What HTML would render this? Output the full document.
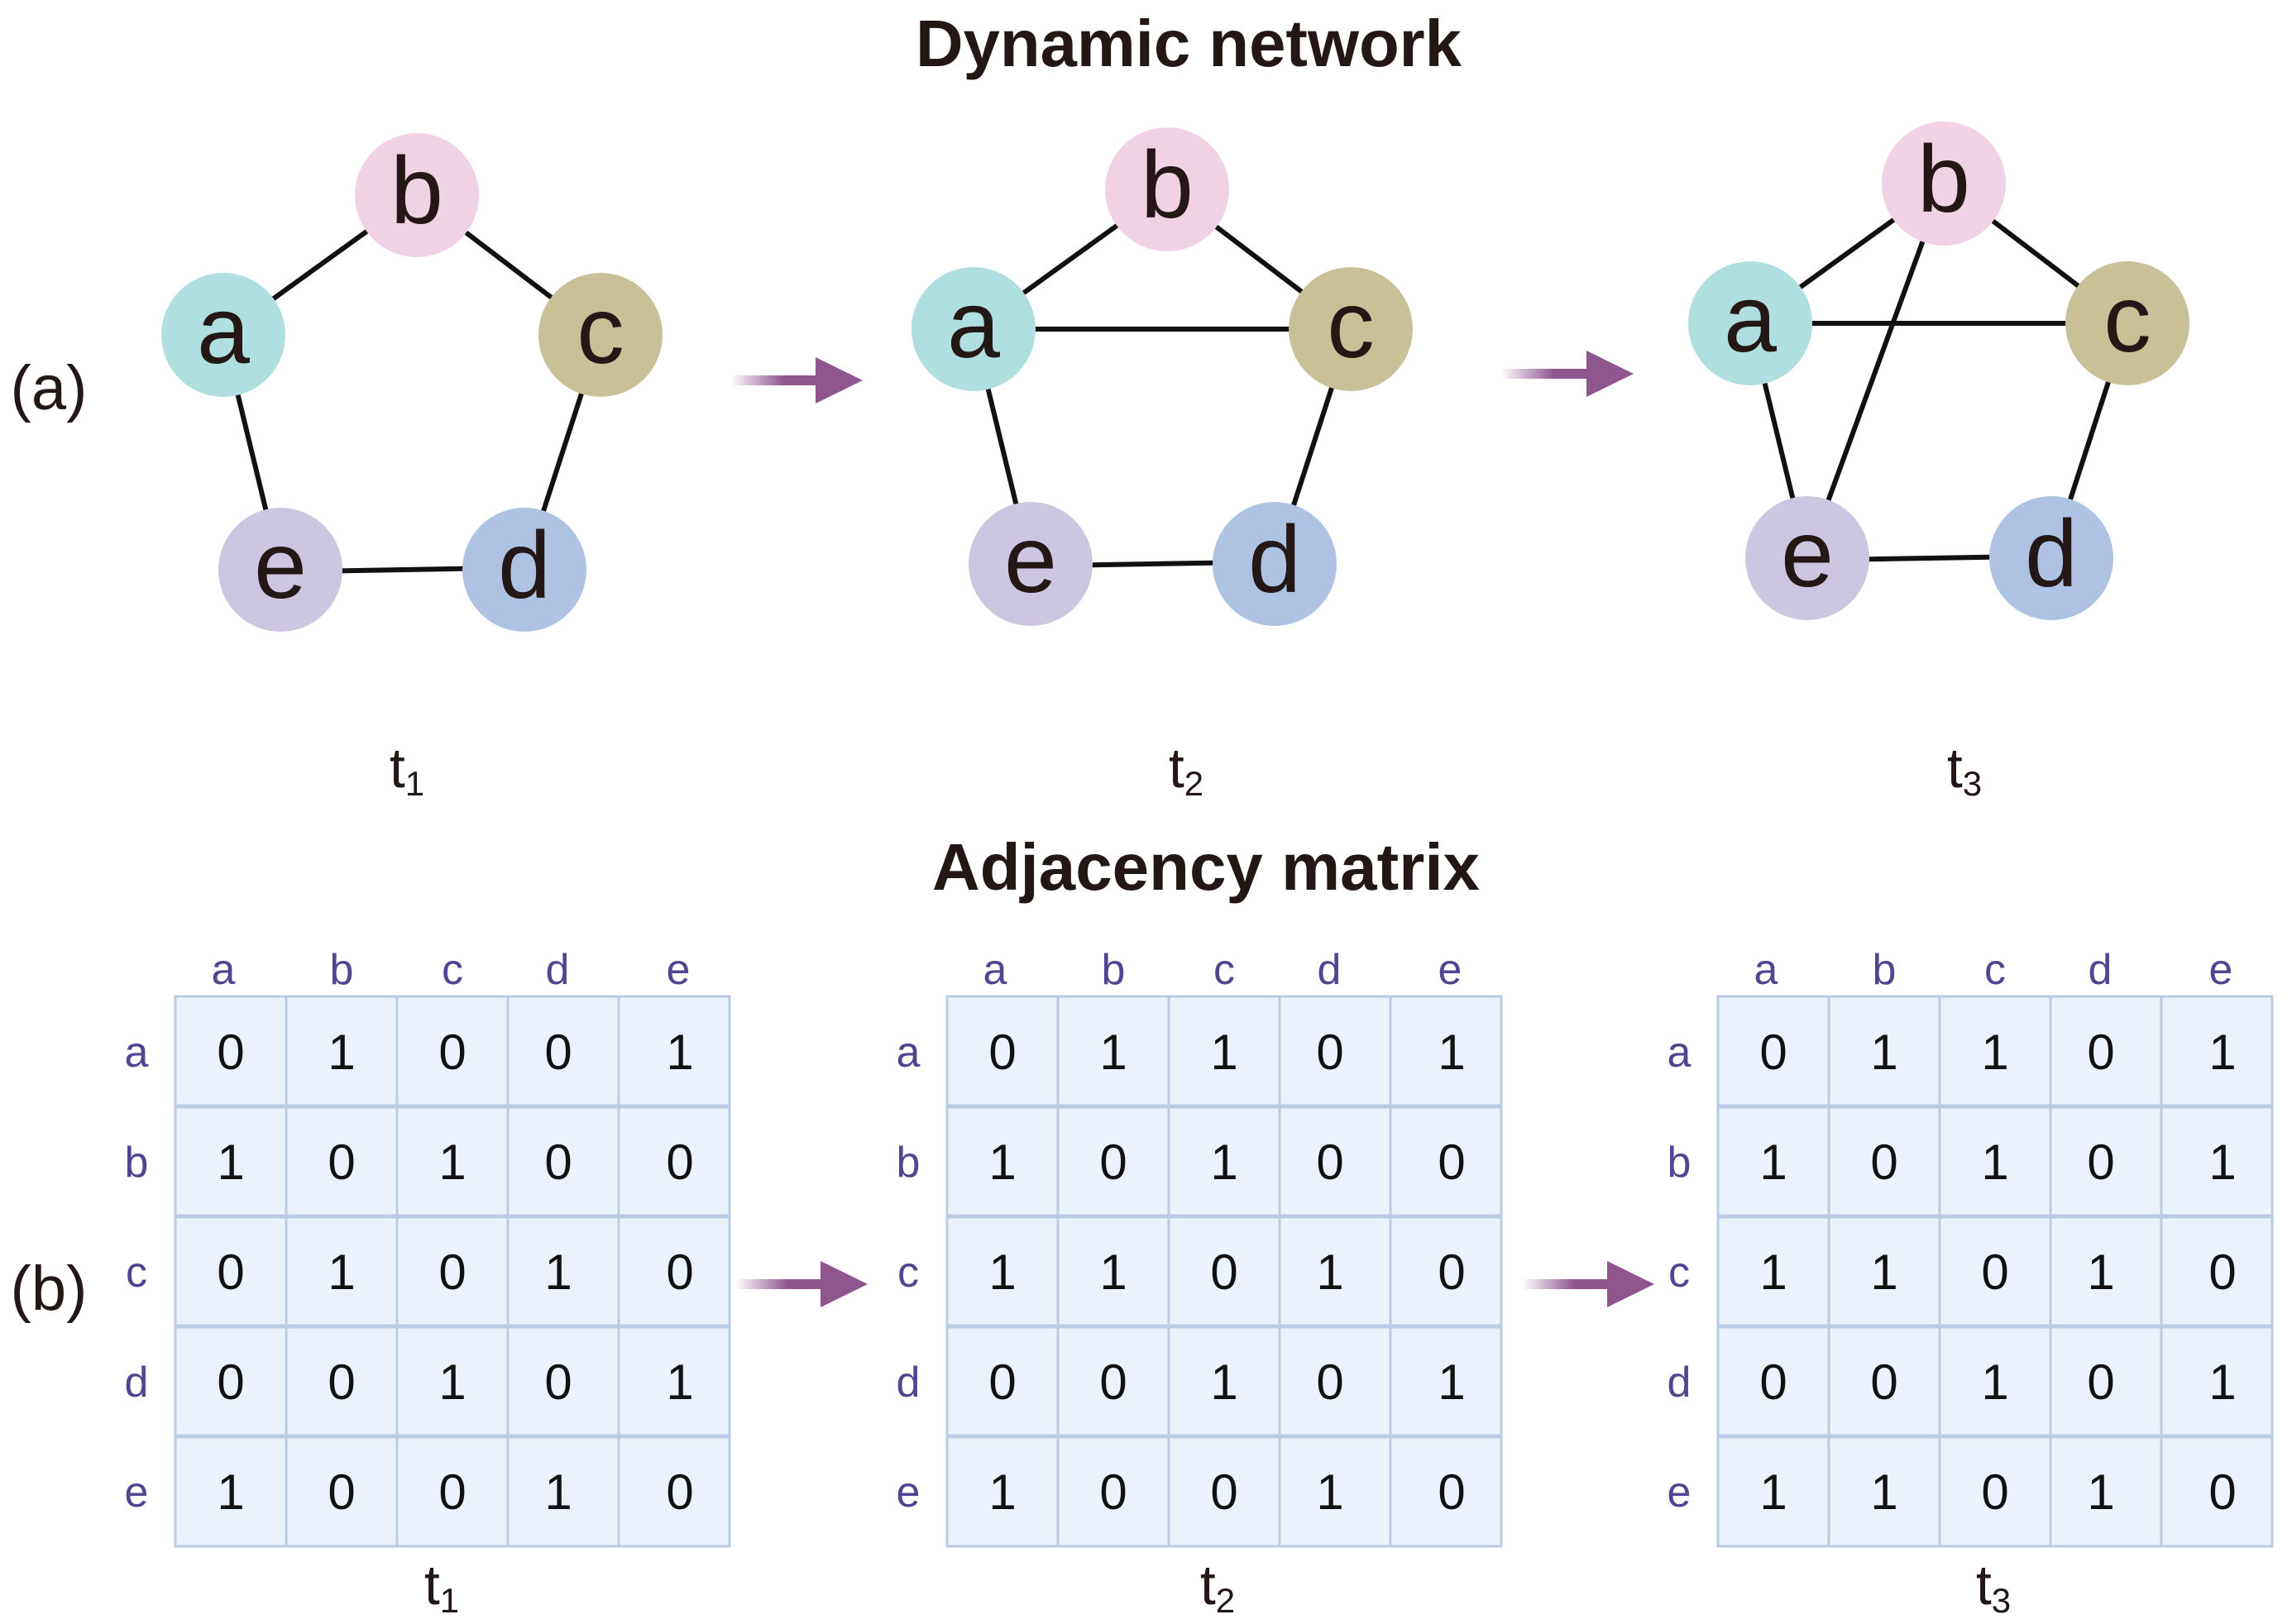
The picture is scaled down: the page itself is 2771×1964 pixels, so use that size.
<!DOCTYPE html>
<html><head><meta charset="utf-8"><style>
html,body{margin:0;padding:0;background:#fff;}
svg{display:block;}
text{font-family:"Liberation Sans",Arial,sans-serif;}
</style></head><body>
<svg width="2771" height="1964" viewBox="0 0 2771 1964" xmlns="http://www.w3.org/2000/svg">
<defs>
<linearGradient id="sg" x1="0" x2="1" y1="0" y2="0">
<stop offset="0" stop-color="#8e558f" stop-opacity="0"/>
<stop offset="0.6" stop-color="#8e558f" stop-opacity="1"/>
<stop offset="1" stop-color="#8e558f"/>
</linearGradient>
<g id="arrow">
<rect x="0" y="-6" width="106" height="12" fill="url(#sg)"/>
<polygon points="103,-28 160,0 103,28" fill="#8e558f"/>
</g>
</defs>
<rect width="2771" height="1964" fill="#fff"/>

<text x="1437" y="80" font-size="80" font-weight="bold" text-anchor="middle" fill="#231815" textLength="660" lengthAdjust="spacingAndGlyphs">Dynamic network</text>
<text x="1458" y="1076" font-size="80" font-weight="bold" text-anchor="middle" fill="#231815" textLength="662" lengthAdjust="spacingAndGlyphs">Adjacency matrix</text>

<text x="59" y="495" font-size="76" text-anchor="middle" fill="#231815">(a)</text>
<text x="59" y="1584" font-size="76" text-anchor="middle" fill="#231815">(b)</text>

<!-- graph t1 -->
<g stroke="#111" stroke-width="6">
<line x1="270" y1="405" x2="504" y2="236"/>
<line x1="504" y1="236" x2="726" y2="405"/>
<line x1="726" y1="405" x2="634" y2="689"/>
<line x1="634" y1="689" x2="339" y2="689" transform="rotate(-1 486 689)"/>
<line x1="339" y1="689" x2="270" y2="405"/>
</g>
<g font-size="115" text-anchor="middle" fill="#231815">
<circle cx="270" cy="405" r="75" fill="#b0dfdf"/><text x="270" y="439">a</text>
<circle cx="504" cy="236" r="75" fill="#f0d2e4"/><text x="504" y="270">b</text>
<circle cx="726" cy="405" r="75" fill="#c8c096"/><text x="726" y="439">c</text>
<circle cx="634" cy="689" r="75" fill="#aec3e4"/><text x="634" y="723">d</text>
<circle cx="339" cy="689" r="75" fill="#cdc6e1"/><text x="339" y="723">e</text>
</g>

<!-- graph t2 -->
<g transform="translate(907,-7)">
<g stroke="#111" stroke-width="6">
<line x1="270" y1="405" x2="504" y2="236"/>
<line x1="504" y1="236" x2="726" y2="405"/>
<line x1="726" y1="405" x2="634" y2="689"/>
<line x1="634" y1="689" x2="339" y2="689" transform="rotate(-1 486 689)"/>
<line x1="339" y1="689" x2="270" y2="405"/>
<line x1="270" y1="405" x2="726" y2="405"/>
</g>
<g font-size="115" text-anchor="middle" fill="#231815">
<circle cx="270" cy="405" r="75" fill="#b0dfdf"/><text x="270" y="439">a</text>
<circle cx="504" cy="236" r="75" fill="#f0d2e4"/><text x="504" y="270">b</text>
<circle cx="726" cy="405" r="75" fill="#c8c096"/><text x="726" y="439">c</text>
<circle cx="634" cy="689" r="75" fill="#aec3e4"/><text x="634" y="723">d</text>
<circle cx="339" cy="689" r="75" fill="#cdc6e1"/><text x="339" y="723">e</text>
</g>
</g>

<!-- graph t3 -->
<g transform="translate(1846,-14)">
<g stroke="#111" stroke-width="6">
<line x1="270" y1="405" x2="504" y2="236"/>
<line x1="504" y1="236" x2="726" y2="405"/>
<line x1="726" y1="405" x2="634" y2="689"/>
<line x1="634" y1="689" x2="339" y2="689" transform="rotate(-1 486 689)"/>
<line x1="339" y1="689" x2="270" y2="405"/>
<line x1="270" y1="405" x2="726" y2="405"/>
<line x1="504" y1="236" x2="339" y2="689"/>
</g>
<g font-size="115" text-anchor="middle" fill="#231815">
<circle cx="270" cy="405" r="75" fill="#b0dfdf"/><text x="270" y="439">a</text>
<circle cx="504" cy="236" r="75" fill="#f0d2e4"/><text x="504" y="270">b</text>
<circle cx="726" cy="405" r="75" fill="#c8c096"/><text x="726" y="439">c</text>
<circle cx="634" cy="689" r="75" fill="#aec3e4"/><text x="634" y="723">d</text>
<circle cx="339" cy="689" r="75" fill="#cdc6e1"/><text x="339" y="723">e</text>
</g>
</g>

<g font-size="68" fill="#231815" text-anchor="middle">
<text x="492" y="952">t<tspan font-size="42" dy="10">1</tspan></text>
<text x="1434" y="952">t<tspan font-size="42" dy="10">2</tspan></text>
<text x="2375" y="952">t<tspan font-size="42" dy="10">3</tspan></text>
<text x="534" y="1940">t<tspan font-size="42" dy="10">1</tspan></text>
<text x="1472" y="1940">t<tspan font-size="42" dy="10">2</tspan></text>
<text x="2410" y="1940">t<tspan font-size="42" dy="10">3</tspan></text>
</g>

<use href="#arrow" x="883" y="460"/>
<use href="#arrow" x="1815" y="452"/>
<use href="#arrow" x="889" y="1553"/>
<use href="#arrow" x="1840" y="1553"/>

<!-- matrix 1 -->
<g>
<rect x="212" y="1205" width="670" height="665" fill="#ebf2fb" stroke="#bccbe5" stroke-width="3"/>
<g stroke="#bccbe5" stroke-width="3">
<line x1="346" y1="1205" x2="346" y2="1870"/><line x1="480" y1="1205" x2="480" y2="1870"/><line x1="614" y1="1205" x2="614" y2="1870"/><line x1="748" y1="1205" x2="748" y2="1870"/>
<line x1="212" y1="1338" x2="882" y2="1338" stroke-width="5"/><line x1="212" y1="1471" x2="882" y2="1471" stroke-width="5"/><line x1="212" y1="1604" x2="882" y2="1604" stroke-width="5"/><line x1="212" y1="1737" x2="882" y2="1737" stroke-width="5"/>
</g>
<g font-size="52" fill="#4f4590" text-anchor="middle">
<text x="270" y="1190">a</text><text x="413" y="1190">b</text><text x="547" y="1190">c</text><text x="674" y="1190">d</text><text x="820" y="1190">e</text>
<text x="165" y="1290">a</text><text x="165" y="1423">b</text><text x="165" y="1556">c</text><text x="165" y="1689">d</text><text x="165" y="1822">e</text>
</g>
<g font-size="60" fill="#111" text-anchor="middle">
<text x="279" y="1293">0</text><text x="413" y="1293">1</text><text x="547" y="1293">0</text><text x="675" y="1293">0</text><text x="822" y="1293">1</text>
<text x="279" y="1426">1</text><text x="413" y="1426">0</text><text x="547" y="1426">1</text><text x="675" y="1426">0</text><text x="822" y="1426">0</text>
<text x="279" y="1559">0</text><text x="413" y="1559">1</text><text x="547" y="1559">0</text><text x="675" y="1559">1</text><text x="822" y="1559">0</text>
<text x="279" y="1692">0</text><text x="413" y="1692">0</text><text x="547" y="1692">1</text><text x="675" y="1692">0</text><text x="822" y="1692">1</text>
<text x="279" y="1825">1</text><text x="413" y="1825">0</text><text x="547" y="1825">0</text><text x="675" y="1825">1</text><text x="822" y="1825">0</text>
</g>
</g>

<!-- matrix 2 -->
<g transform="translate(933,0)">
<rect x="212" y="1205" width="670" height="665" fill="#ebf2fb" stroke="#bccbe5" stroke-width="3"/>
<g stroke="#bccbe5" stroke-width="3">
<line x1="346" y1="1205" x2="346" y2="1870"/><line x1="480" y1="1205" x2="480" y2="1870"/><line x1="614" y1="1205" x2="614" y2="1870"/><line x1="748" y1="1205" x2="748" y2="1870"/>
<line x1="212" y1="1338" x2="882" y2="1338" stroke-width="5"/><line x1="212" y1="1471" x2="882" y2="1471" stroke-width="5"/><line x1="212" y1="1604" x2="882" y2="1604" stroke-width="5"/><line x1="212" y1="1737" x2="882" y2="1737" stroke-width="5"/>
</g>
<g font-size="52" fill="#4f4590" text-anchor="middle">
<text x="270" y="1190">a</text><text x="413" y="1190">b</text><text x="547" y="1190">c</text><text x="674" y="1190">d</text><text x="820" y="1190">e</text>
<text x="165" y="1290">a</text><text x="165" y="1423">b</text><text x="165" y="1556">c</text><text x="165" y="1689">d</text><text x="165" y="1822">e</text>
</g>
<g font-size="60" fill="#111" text-anchor="middle">
<text x="279" y="1293">0</text><text x="413" y="1293">1</text><text x="547" y="1293">1</text><text x="675" y="1293">0</text><text x="822" y="1293">1</text>
<text x="279" y="1426">1</text><text x="413" y="1426">0</text><text x="547" y="1426">1</text><text x="675" y="1426">0</text><text x="822" y="1426">0</text>
<text x="279" y="1559">1</text><text x="413" y="1559">1</text><text x="547" y="1559">0</text><text x="675" y="1559">1</text><text x="822" y="1559">0</text>
<text x="279" y="1692">0</text><text x="413" y="1692">0</text><text x="547" y="1692">1</text><text x="675" y="1692">0</text><text x="822" y="1692">1</text>
<text x="279" y="1825">1</text><text x="413" y="1825">0</text><text x="547" y="1825">0</text><text x="675" y="1825">1</text><text x="822" y="1825">0</text>
</g>
</g>

<!-- matrix 3 -->
<g transform="translate(1865,0)">
<rect x="212" y="1205" width="670" height="665" fill="#ebf2fb" stroke="#bccbe5" stroke-width="3"/>
<g stroke="#bccbe5" stroke-width="3">
<line x1="346" y1="1205" x2="346" y2="1870"/><line x1="480" y1="1205" x2="480" y2="1870"/><line x1="614" y1="1205" x2="614" y2="1870"/><line x1="748" y1="1205" x2="748" y2="1870"/>
<line x1="212" y1="1338" x2="882" y2="1338" stroke-width="5"/><line x1="212" y1="1471" x2="882" y2="1471" stroke-width="5"/><line x1="212" y1="1604" x2="882" y2="1604" stroke-width="5"/><line x1="212" y1="1737" x2="882" y2="1737" stroke-width="5"/>
</g>
<g font-size="52" fill="#4f4590" text-anchor="middle">
<text x="270" y="1190">a</text><text x="413" y="1190">b</text><text x="547" y="1190">c</text><text x="674" y="1190">d</text><text x="820" y="1190">e</text>
<text x="165" y="1290">a</text><text x="165" y="1423">b</text><text x="165" y="1556">c</text><text x="165" y="1689">d</text><text x="165" y="1822">e</text>
</g>
<g font-size="60" fill="#111" text-anchor="middle">
<text x="279" y="1293">0</text><text x="413" y="1293">1</text><text x="547" y="1293">1</text><text x="675" y="1293">0</text><text x="822" y="1293">1</text>
<text x="279" y="1426">1</text><text x="413" y="1426">0</text><text x="547" y="1426">1</text><text x="675" y="1426">0</text><text x="822" y="1426">1</text>
<text x="279" y="1559">1</text><text x="413" y="1559">1</text><text x="547" y="1559">0</text><text x="675" y="1559">1</text><text x="822" y="1559">0</text>
<text x="279" y="1692">0</text><text x="413" y="1692">0</text><text x="547" y="1692">1</text><text x="675" y="1692">0</text><text x="822" y="1692">1</text>
<text x="279" y="1825">1</text><text x="413" y="1825">1</text><text x="547" y="1825">0</text><text x="675" y="1825">1</text><text x="822" y="1825">0</text>
</g>
</g>
</svg>
</body></html>
